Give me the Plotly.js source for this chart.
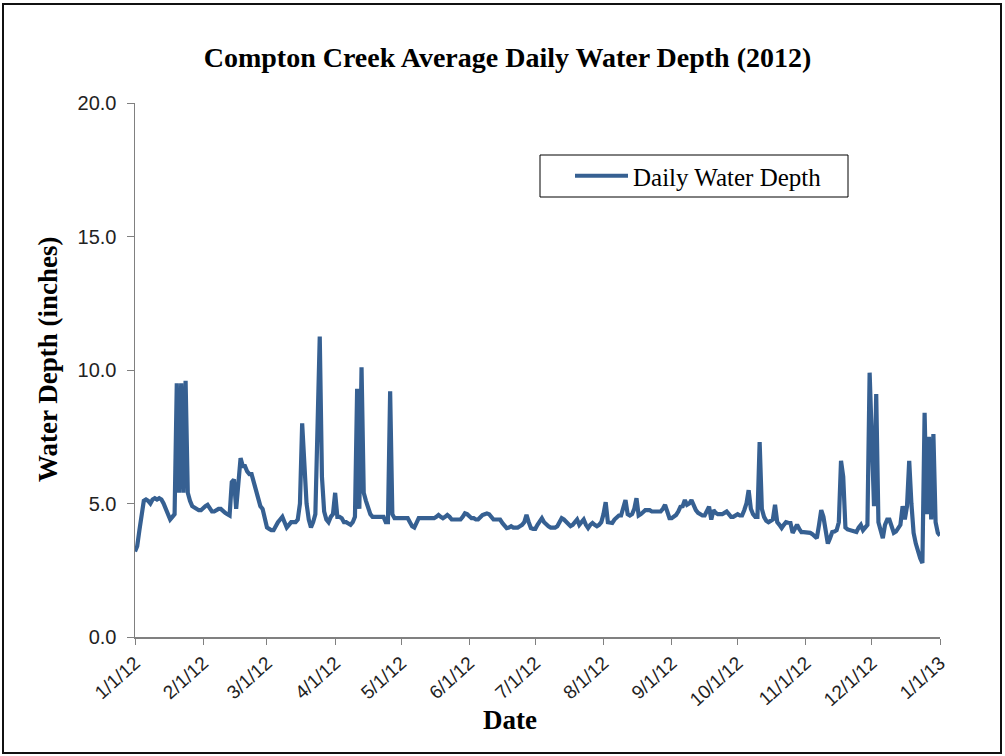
<!DOCTYPE html>
<html>
<head>
<meta charset="utf-8">
<script src="https://cdn.plot.ly/plotly-3.0.1.min.js"></script>
<style>
  html, body { margin: 0; padding: 0; background: #fff; }
  #wrap { position: relative; width: 1005px; height: 756px; }
  #chart { position: absolute; left: 0; top: 0; width: 1005px; height: 756px; }
  #frame { position: absolute; left: 2px; top: 3px; width: 996px; height: 747px; border: 2px solid #111; pointer-events: none; }
</style>
</head>
<body>
<div id="wrap"><div id="chart"></div><div id="frame"></div></div>
<script>
// Daily average water depth (inches), starting 1/1/12, one value per day
const startDate = '2012-01-01';
const depthJan = [3.2,3.4,4.0,4.6,5.1,5.15,5.1,5.0,5.15,5.2, 5.15,5.2,5.15,5.0,4.8,4.5,4.4,4.5,4.6,9.5, 5.4,9.5,5.4,9.6,5.4,5.1,4.9,4.85,4.8,4.75, 4.75];
const depthFeb = [4.85,4.9,4.95,4.8,4.7,4.7,4.75,4.8,4.8, 4.7,4.65,4.6,4.55,5.8,5.9,4.8,5.6,6.7,6.4, 6.4,6.2,6.1,6.1,5.8,5.6,5.3,4.9,4.8,4.4];
const depthMar = [4.1,4.05,4.0,4.0,4.2,4.3,4.4,4.5,4.3,4.1, 4.2,4.3,4.3,4.3,4.4,5.0,8.0,6.6,5.0,4.4, 4.1,4.3,4.6,7.9,11.25,6.0,4.7,4.4,4.3,4.5, 4.6];
const depthApr = [5.4,4.5,4.5,4.45,4.3,4.3,4.25,4.2,4.3, 4.5,9.3,4.8,10.1,5.4,5.1,4.8,4.6,4.5,4.5, 4.5,4.5,4.5,4.5,4.3,4.3,9.2,4.6,4.45,4.45, 4.45];
const depthMay = [4.45,4.45,4.45,4.45,4.3,4.15,4.1,4.3,4.45, 4.45,4.45,4.45,4.45,4.45,4.45,4.45,4.5,4.57,4.5, 4.45,4.5,4.57,4.5,4.4,4.4,4.4,4.4,4.4,4.5, 4.63,4.6];
const depthJun = [4.5,4.45,4.45,4.4,4.4,4.5,4.57,4.6, 4.63,4.6,4.5,4.4,4.4,4.4,4.4,4.27,4.15,4.08, 4.1,4.15,4.1,4.08,4.1,4.15,4.2,4.3,4.57,4.3, 4.08,4.05];
const depthJul = [4.05,4.2,4.35,4.45,4.3,4.2,4.15,4.1, 4.08,4.1,4.15,4.3,4.45,4.4,4.3,4.2,4.15,4.2, 4.3,4.4,4.2,4.3,4.4,4.2,4.08,4.2,4.27,4.2, 4.15,4.2,4.3];
const depthAug = [4.6,5.05,4.3,4.3,4.27,4.4,4.5, 4.55,4.55,4.8,5.13,4.6,4.55,4.6,4.8,5.2,4.55, 4.6,4.7,4.75,4.75,4.75,4.7,4.7,4.7,4.7,4.7, 4.8,4.95,4.7,4.45];
const depthSep = [4.45,4.5,4.57,4.7,4.88,4.9, 5.13,4.95,5.0,5.13,4.9,4.75,4.65,4.6,4.55,4.55, 4.7,4.88,4.4,4.75,4.65,4.6,4.6,4.6,4.65,4.7, 4.6,4.5,4.5,4.55];
const depthOct = [4.6,4.55,4.55,4.75,5.0,5.5, 4.8,4.6,4.5,4.5,7.3,4.8,4.5,4.35,4.3,4.35, 4.4,4.95,4.3,4.2,4.08,4.2,4.3,4.28,4.27,3.9, 4.05,4.2,4.05,3.93,3.93];
const depthNov = [3.93,3.93,3.9,3.85,3.75, 3.7,4.2,4.75,4.5,3.9,3.5,3.7,3.93,3.95,4.0, 4.3,6.6,6.0,4.1,4.03,4.0,4.0,3.95,3.93,4.1, 4.2,4.0,4.1,4.2,9.9];
const depthDec = [7.5,4.9,9.1,4.3,4.0, 3.7,4.2,4.4,4.4,4.2,3.9,3.95,4.1,4.2,4.9, 4.4,4.9,6.6,5.0,3.9,3.5,3.2,2.95,2.77,8.4, 4.6,7.5,4.4,7.6,4.3,3.9];
const depthJan13 = [3.8];

const tickDates = ['2012-01-01','2012-02-01','2012-03-01','2012-04-01','2012-05-01','2012-06-01','2012-07-01','2012-08-01','2012-09-01','2012-10-01','2012-11-01','2012-12-01','2013-01-01'];
const tickLabels = ['1/1/12','2/1/12','3/1/12','4/1/12','5/1/12','6/1/12','7/1/12','8/1/12','9/1/12','10/1/12','11/1/12','12/1/12','1/1/13'];

const depth = [].concat(depthJan, depthFeb, depthMar, depthApr, depthMay, depthJun,
  depthJul, depthAug, depthSep, depthOct, depthNov, depthDec, depthJan13);

const serif = 'Liberation Serif, Times New Roman, serif';
const sans = 'Liberation Sans, Arial, sans-serif';

// plot area in pixels (for legend / title placement)
const PL = 135, PR = 940, PT = 103, PB = 637;
const px2x = v => (v - PL) / (PR - PL);
const px2y = v => (PB - v) / (PB - PT);

const trace = {
  type: 'scatter', mode: 'lines', name: 'Daily Water Depth',
  x0: startDate, dx: 86400000, y: depth,
  line: { color: '#366092', width: 4.2 }
};

const layout = {
  width: 1005, height: 756,
  paper_bgcolor: '#ffffff', plot_bgcolor: '#ffffff',
  margin: { l: 135, r: 65, t: 103, b: 119 },
  title: {
    text: '<b>Compton Creek Average Daily Water Depth (2012)</b>',
    font: { family: serif, size: 28, color: '#000' },
    xref: 'container', x: 0.505, xanchor: 'center',
    yref: 'container', y: 1 - 57/756, yanchor: 'middle'
  },
  xaxis: {
    type: 'date', range: ['2012-01-01', '2013-01-01'],
    tickmode: 'array', tickvals: tickDates, ticktext: tickLabels,
    tickangle: -42, ticks: 'outside', ticklen: 6, tickcolor: '#808080', tickwidth: 1,
    showline: true, linecolor: '#808080', linewidth: 1.5,
    showgrid: false, zeroline: false,
    tickfont: { family: sans, size: 19, color: '#222' }
  },
  yaxis: {
    range: [0, 20], tickmode: 'linear', tick0: 0, dtick: 5, tickformat: '.1f',
    ticks: 'outside', ticklen: 7, tickcolor: '#808080', tickwidth: 1,
    showline: true, linecolor: '#808080', linewidth: 1.5,
    showgrid: false, zeroline: false, ticklabelstandoff: 6,
    tickfont: { family: sans, size: 20, color: '#222' }
  },
  annotations: [
    { text: '<b>Date</b>', xref: 'paper', yref: 'paper', x: px2x(510), y: px2y(720),
      xanchor: 'center', yanchor: 'middle', showarrow: false,
      font: { family: serif, size: 27, color: '#000' } },
    { text: '<b>Water Depth (inches)</b>', xref: 'paper', yref: 'paper', x: px2x(48), y: px2y(360),
      xanchor: 'center', yanchor: 'middle', showarrow: false, textangle: -90,
      font: { family: serif, size: 27, color: '#000' } }
  ],
  shapes: [{
    type: 'rect', xref: 'paper', yref: 'paper',
    x0: px2x(540), x1: px2x(848), y0: px2y(197), y1: px2y(155),
    line: { color: '#000', width: 1 }, fillcolor: '#fff', layer: 'above'
  }],
  showlegend: true,
  legend: {
    x: px2x(570), y: px2y(176), xanchor: 'left', yanchor: 'middle',
    borderwidth: 0, bgcolor: 'rgba(0,0,0,0)',
    font: { family: serif, size: 25, color: '#000' },
    itemwidth: 53
  }
};

Plotly.newPlot('chart', [trace], layout, { displayModeBar: false, staticPlot: true });
</script>
</body>
</html>
